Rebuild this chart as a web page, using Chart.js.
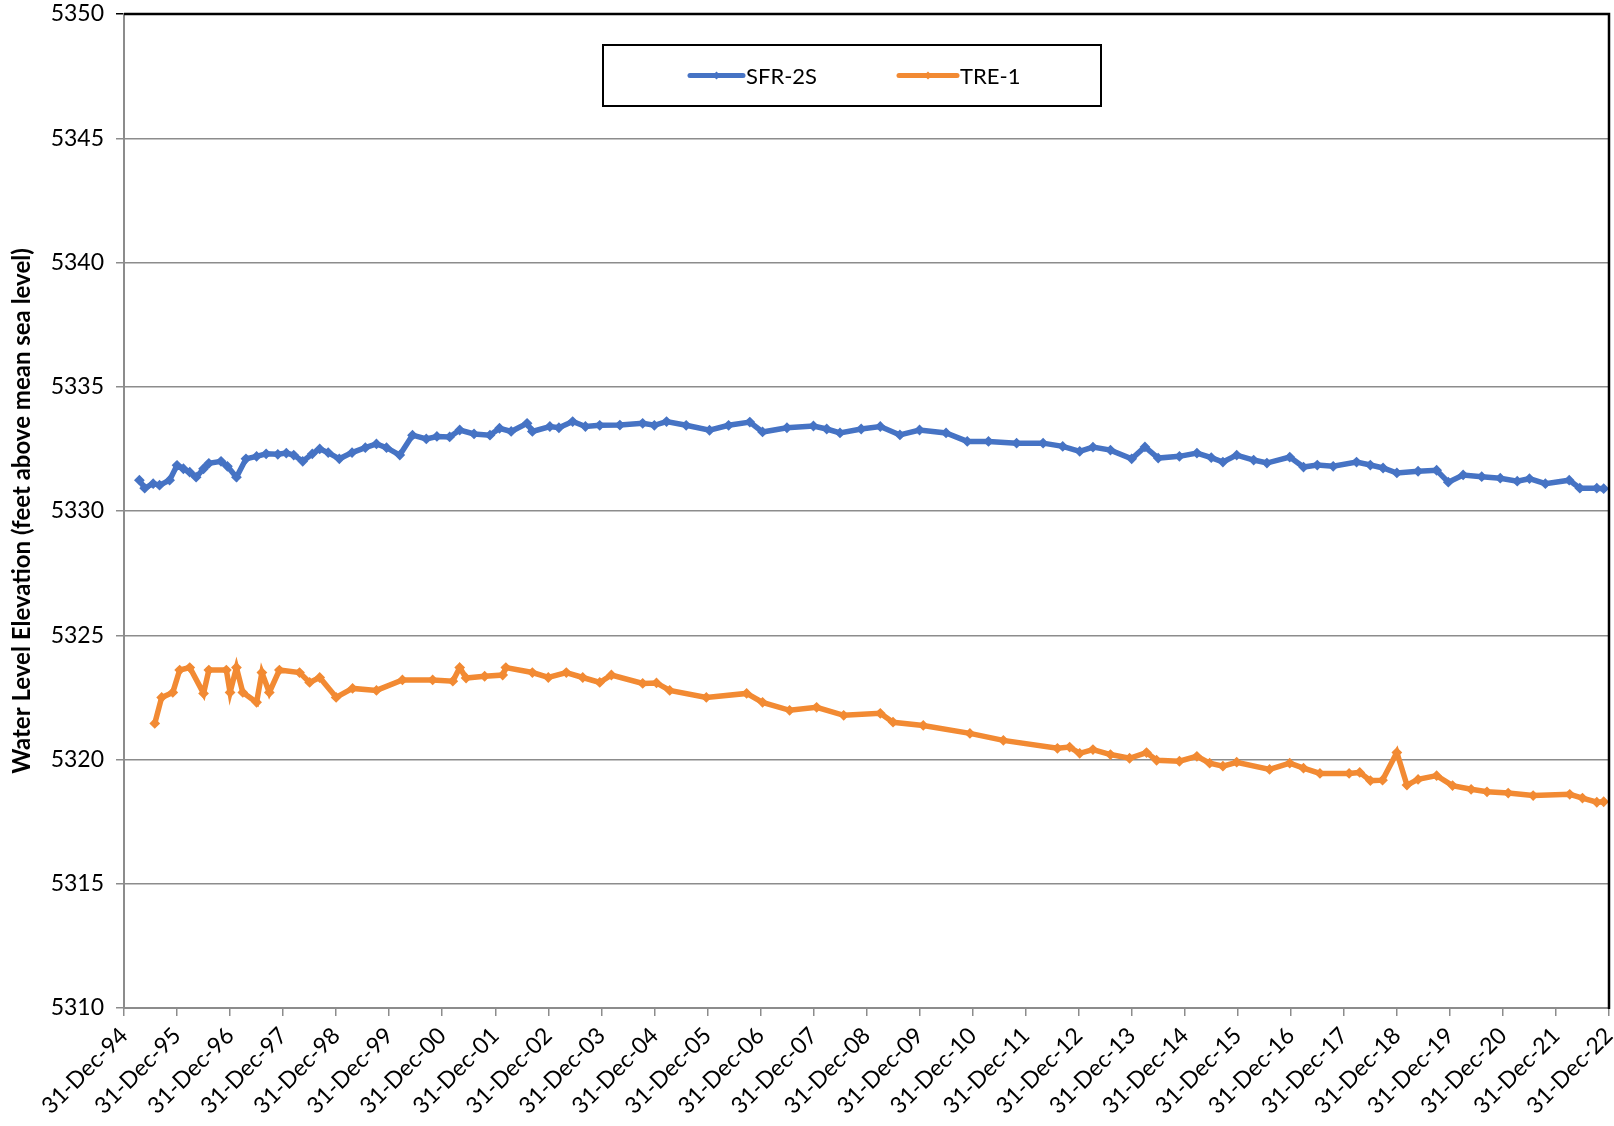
<!DOCTYPE html>
<html>
<head>
<meta charset="utf-8">
<script src="https://cdn.jsdelivr.net/npm/chart.js@4.4.1/dist/chart.umd.min.js"></script>
<style>
  html, body { margin: 0; padding: 0; background: #fff; }
  #wrap { width: 1614px; height: 1126px; }
</style>
</head>
<body>
<div id="wrap"><canvas id="levelChart" width="1614" height="1126"></canvas></div>
<script>
// tick labels along the bottom (one per year, 31-Dec-94 = 1995.0)
const xTickLabels = ['31-Dec-94','31-Dec-95','31-Dec-96','31-Dec-97','31-Dec-98','31-Dec-99',
  '31-Dec-00','31-Dec-01','31-Dec-02','31-Dec-03','31-Dec-04','31-Dec-05','31-Dec-06',
  '31-Dec-07','31-Dec-08','31-Dec-09','31-Dec-10','31-Dec-11','31-Dec-12','31-Dec-13',
  '31-Dec-14','31-Dec-15','31-Dec-16','31-Dec-17','31-Dec-18','31-Dec-19','31-Dec-20',
  '31-Dec-21','31-Dec-22'];
const firstYear = 1995;

// SFR-2S (decimal year, feet amsl)
const sfrYears = [1995.29,1995.39,1995.55,1995.67,1995.86,1996.0,1996.12,1996.24,1996.36,1996.5,
  1996.6,1996.83,1996.95,1997.12,1997.3,1997.5,1997.68,1997.9,1998.06,1998.2,1998.37,1998.55,
  1998.69,1998.85,1999.06,1999.3,1999.55,1999.76,1999.95,2000.2,2000.44,2000.7,2000.9,2001.14,
  2001.33,2001.6,2001.9,2002.08,2002.3,2002.6,2002.7,2003.03,2003.2,2003.46,2003.7,2003.97,
  2004.35,2004.78,2005.0,2005.23,2005.6,2006.04,2006.4,2006.8,2007.04,2007.5,2008.0,2008.25,
  2008.5,2008.9,2009.26,2009.63,2010.0,2010.5,2010.9,2011.3,2011.83,2012.33,2012.7,2013.02,
  2013.27,2013.6,2014.0,2014.25,2014.5,2014.9,2015.23,2015.5,2015.72,2015.98,2016.3,2016.55,
  2016.98,2017.24,2017.5,2017.8,2018.24,2018.5,2018.74,2019.0,2019.4,2019.75,2019.97,2020.25,
  2020.6,2020.95,2021.27,2021.5,2021.8,2022.25,2022.45,2022.77,2022.9];
const sfrLevels = [5331.24,5330.92,5331.1,5331.04,5331.24,5331.84,5331.7,5331.56,5331.36,5331.7,
  5331.92,5332.0,5331.8,5331.36,5332.1,5332.2,5332.3,5332.28,5332.33,5332.25,5332.0,5332.3,
  5332.5,5332.35,5332.1,5332.35,5332.55,5332.7,5332.55,5332.25,5333.05,5332.9,5333.0,5332.98,
  5333.26,5333.1,5333.05,5333.33,5333.2,5333.53,5333.2,5333.4,5333.35,5333.6,5333.4,5333.45,
  5333.46,5333.53,5333.45,5333.6,5333.45,5333.25,5333.45,5333.58,5333.18,5333.35,5333.42,5333.3,
  5333.14,5333.3,5333.4,5333.06,5333.26,5333.14,5332.8,5332.8,5332.73,5332.73,5332.6,5332.4,
  5332.57,5332.45,5332.1,5332.58,5332.13,5332.2,5332.33,5332.15,5331.97,5332.25,5332.05,5331.93,
  5332.17,5331.77,5331.85,5331.8,5331.97,5331.85,5331.73,5331.53,5331.6,5331.64,5331.16,5331.45,
  5331.38,5331.32,5331.2,5331.3,5331.1,5331.24,5330.92,5330.92,5330.9];

// TRE-1 (decimal year, feet amsl)
const treYears = [1995.58,1995.71,1995.92,1996.05,1996.24,1996.5,1996.6,1996.93,1997.0,1997.12,
  1997.24,1997.5,1997.6,1997.74,1997.93,1998.31,1998.5,1998.69,1999.0,1999.31,1999.76,2000.25,
  2000.82,2001.2,2001.33,2001.45,2001.8,2002.14,2002.2,2002.7,2003.0,2003.34,2003.65,2003.97,
  2004.19,2004.78,2005.04,2005.29,2005.98,2006.74,2007.04,2007.55,2008.06,2008.57,2009.26,2009.5,
  2010.07,2010.95,2011.58,2012.6,2012.83,2013.02,2013.27,2013.6,2013.96,2014.28,2014.47,2014.9,
  2015.23,2015.47,2015.72,2015.98,2016.6,2016.98,2017.24,2017.55,2018.1,2018.3,2018.5,2018.73,
  2019.0,2019.19,2019.4,2019.75,2020.05,2020.4,2020.7,2021.1,2021.57,2022.26,2022.5,2022.77,2022.9];
const treLevels = [5321.45,5322.5,5322.7,5323.6,5323.7,5322.66,5323.6,5323.6,5322.7,5323.7,
  5322.7,5322.3,5323.5,5322.7,5323.6,5323.5,5323.1,5323.3,5322.5,5322.86,5322.78,5323.2,
  5323.2,5323.15,5323.7,5323.28,5323.35,5323.4,5323.7,5323.5,5323.3,5323.5,5323.3,5323.1,
  5323.4,5323.06,5323.08,5322.78,5322.5,5322.66,5322.3,5321.98,5322.1,5321.78,5321.86,5321.5,
  5321.37,5321.05,5320.77,5320.45,5320.5,5320.25,5320.4,5320.2,5320.05,5320.28,5319.97,5319.93,
  5320.13,5319.85,5319.73,5319.89,5319.6,5319.85,5319.65,5319.44,5319.44,5319.48,5319.15,5319.17,
  5320.28,5318.97,5319.2,5319.35,5318.95,5318.8,5318.7,5318.65,5318.55,5318.6,5318.45,5318.28,5318.3];

const seriesNames = ['SFR-2S', 'TRE-1'];
const seriesColors = ['#4673c4', '#f28a33'];

const FONT = 'Lato, "Liberation Sans", sans-serif';

function toPoints(xs, ys) {
  return xs.map((x, i) => ({ x: x, y: ys[i] }));
}

// legend box drawn inside the plot, plus black top/right frame
const framePlugin = {
  id: 'frame',
  afterDraw(chart) {
    const c = chart.ctx;
    const a = chart.chartArea;
    c.save();
    c.strokeStyle = '#000';
    c.lineWidth = 2.5;
    c.beginPath();
    c.moveTo(a.left, a.top);
    c.lineTo(a.right, a.top);
    c.lineTo(a.right, a.bottom + 1);
    c.stroke();

    // legend
    const bx = 603, by = 45, bw = 498, bh = 61;
    c.fillStyle = '#fff';
    c.fillRect(bx, by, bw, bh);
    c.lineWidth = 2;
    c.strokeRect(bx, by, bw, bh);
    const items = [{ x0: 690, x1: 743 }, { x0: 899, x1: 957 }];
    const cy = by + bh / 2;
    c.font = '22px ' + FONT;
    c.textBaseline = 'middle';
    items.forEach((it, i) => {
      c.strokeStyle = seriesColors[i];
      c.lineWidth = 5;
      c.lineCap = 'round';
      c.beginPath();
      c.moveTo(it.x0, cy);
      c.lineTo(it.x1, cy);
      c.stroke();
      const mx = (it.x0 + it.x1) / 2;
      c.fillStyle = seriesColors[i];
      c.beginPath();
      c.moveTo(mx, cy - 4);
      c.lineTo(mx + 4, cy);
      c.lineTo(mx, cy + 4);
      c.lineTo(mx - 4, cy);
      c.closePath();
      c.fill();
      c.fillStyle = '#000';
      c.fillText(seriesNames[i], it.x1 + 3, cy + 1);
    });
    c.restore();
  }
};

const ctx = document.getElementById('levelChart').getContext('2d');
const chart = new Chart(ctx, {
  type: 'line',
  data: {
    datasets: [
      {
        label: seriesNames[0],
        data: toPoints(sfrYears, sfrLevels),
        borderColor: seriesColors[0],
        backgroundColor: seriesColors[0],
        borderWidth: 5.5,
        pointRadius: 1.5,
        pointStyle: 'rectRot',
        tension: 0
      },
      {
        label: seriesNames[1],
        data: toPoints(treYears, treLevels),
        borderColor: seriesColors[1],
        backgroundColor: seriesColors[1],
        borderWidth: 5.5,
        pointRadius: 1.5,
        pointStyle: 'rectRot',
        tension: 0
      }
    ]
  },
  options: {
    responsive: false,
    animation: false,
    layout: { autoPadding: false, padding: { top: 14, right: 5, left: 0, bottom: 0 } },
    plugins: {
      legend: { display: false },
      tooltip: { enabled: false }
    },
    scales: {
      x: {
        type: 'linear',
        min: firstYear,
        max: firstYear + xTickLabels.length - 1,
        afterBuildTicks(scale) {
          scale.ticks = xTickLabels.map((l, i) => ({ value: firstYear + i }));
        },
        afterFit(scale) {
          scale.height = 118;
          scale.paddingLeft = 0;
          scale.paddingRight = 0;
        },
        ticks: {
          autoSkip: false,
          maxRotation: 45,
          minRotation: 45,
          padding: 6,
          color: '#000',
          font: { family: FONT, size: 23 },
          callback: (v) => xTickLabels[Math.round(v - firstYear)]
        },
        grid: { drawOnChartArea: false, drawTicks: true, tickLength: 8, color: '#8c8c8c', lineWidth: 1.5 },
        border: { color: '#8c8c8c', width: 2 }
      },
      y: {
        min: 5310,
        max: 5350,
        afterFit(scale) {
          scale.width = 124;
          scale.paddingTop = 0;
          scale.paddingBottom = 0;
        },
        ticks: {
          stepSize: 5,
          padding: 12,
          color: '#000',
          font: { family: FONT, size: 23 },
          callback: (v) => String(v)
        },
        title: {
          display: true,
          text: 'Water Level Elevation (feet above mean sea level)',
          color: '#000',
          font: { family: FONT, size: 24, weight: 'bold' },
          padding: { top: 8, bottom: 0 }
        },
        grid: {
          color: (c) => (c.tick && c.tick.value === 5350 ? '#000' : '#8c8c8c'),
          lineWidth: 1.5,
          tickLength: 8
        },
        border: { color: '#8c8c8c', width: 2 }
      }
    }
  },
  plugins: [framePlugin]
});
</script>
</body>
</html>
